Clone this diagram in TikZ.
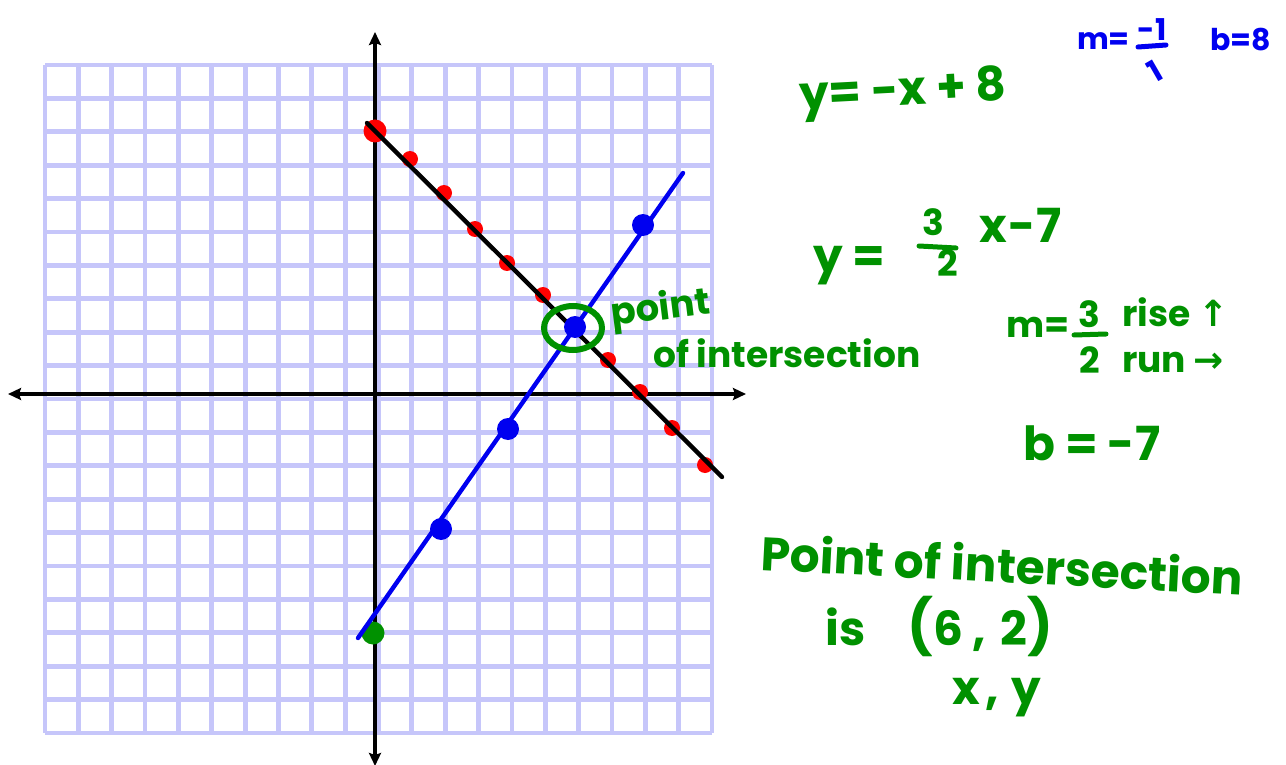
\documentclass[tikz,border=0pt]{standalone}
\usepackage{fontspec}
\setmainfont{Poppins}
\newfontfamily\symfont{DejaVu Sans}
\usetikzlibrary{arrows.meta,shapes.geometric}
\definecolor{gridc}{RGB}{198,198,250}
\definecolor{hgreen}{RGB}{0,145,0}
\definecolor{hblue}{RGB}{0,0,240}
\definecolor{hred}{RGB}{255,0,0}
\newcommand\HWbig{\fontsize{47}{50}\selectfont\bfseries}
\newcommand\HWmid{\fontsize{36}{40}\selectfont\bfseries}
\newcommand\HWsmall{\fontsize{30}{34}\selectfont\bfseries}
\newcommand\HWparen{\fontsize{54}{56}\selectfont\bfseries}
\begin{document}
\begin{tikzpicture}[x=1pt,y=-1pt,
  gridline/.style={draw=gridc,line width=4.8pt},
  axisline/.style={draw=black,line width=3.4pt,
    {Stealth[length=13pt,width=12pt,inset=2pt]}-{Stealth[length=13pt,width=12pt,inset=2pt]}},
  graphline/.style={line width=4.4pt,line cap=round},
  dotnode/.style={circle,inner sep=0pt,minimum size=#1},
  reddot/.style={dotnode=16pt,fill=hred},
  bluedot/.style={dotnode=22pt,fill=hblue},
  gtext/.style={text=hgreen,inner sep=0pt,anchor=base west},
  btext/.style={text=hblue,inner sep=0pt,anchor=base west},
  fracbar/.style={line width=5pt,line cap=round}]
\fill[white] (0,0) rectangle (1286,765);
\useasboundingbox (0,0) rectangle (1286,765);
% grid
\foreach \i in {0,...,20}{
  \draw[gridline] ({45+\i*33.35},65) -- ({45+\i*33.35},733);
  \draw[gridline] (45,{65+\i*33.4}) -- (712,{65+\i*33.4});
}
% axes
\coordinate (xl) at (8,394);
\coordinate (xr) at (746,394);
\coordinate (yt) at (375,32);
\coordinate (yb) at (375,766);
\draw[axisline] (xl) -- (xr);
\draw[axisline] (yt) -- (yb);
% red points of y = -x + 8
\node[reddot,minimum size=23pt] (r0) at (375,131) {};
\node[reddot] (r1) at (410,159) {};
\node[reddot] (r2) at (444,193) {};
\node[reddot] (r3) at (475,229) {};
\node[reddot] (r4) at (507,263) {};
\node[reddot] (r5) at (543,295) {};
\node[reddot] (r7) at (608,360) {};
\node[reddot] (r8) at (640,392) {};
\node[reddot] (r9) at (672,428) {};
\node[reddot] (r10) at (705,465) {};
\coordinate (ra) at (367,123);
\coordinate (rb) at (722,477);
\draw[graphline,draw=black] (ra) -- (rb);
% blue line y = 3/2 x - 7
\node[dotnode=23pt,fill=hgreen] (g0) at (373,633) {};
\coordinate (ba) at (358,638);
\coordinate (bb) at (683,173);
\draw[graphline,draw=hblue] (ba) -- (bb);
\node[bluedot] (b2) at (441,529) {};
\node[bluedot] (b4) at (508,429) {};
\node[bluedot] (b6) at (575,327) {};
\node[bluedot] (b8) at (643,225) {};
\node[ellipse,draw=hgreen,line width=6pt,minimum width=58pt,minimum height=44pt,inner sep=0pt] (poi) at (573,328) {};
% labels near circle
\node[gtext,rotate=7] (pt1) at (612,326) {\fontsize{37}{40}\selectfont\bfseries point};
\node[gtext] (pt2) at (653,367) {\HWmid of intersection};
% equation 1
\node[gtext,rotate=3] (eq1) at (800,111) {\HWbig y= -x + 8};
% blue slope
\node[btext] (bm) at (1077,50) {\HWsmall m=};
\node[text=hblue,inner sep=0pt] (bnum) at (1152,30) {\HWsmall -1};
\coordinate (bbar1) at (1138,47);
\coordinate (bbar2) at (1166,45);
\draw[fracbar,draw=hblue] (bbar1) -- (bbar2);
\node[text=hblue,inner sep=0pt,rotate=30] (bden) at (1155,71) {\HWsmall 1};
\node[btext] (bb8) at (1210,51) {\HWsmall b=8};
% equation 2
\node[gtext] (eq2a) at (813,272) {\HWbig y =};
\node[text=hgreen,inner sep=0pt] (eq2n) at (933,222) {\HWmid 3};
\coordinate (f2a) at (919,246);
\coordinate (f2b) at (956,248);
\draw[fracbar,draw=hgreen] (f2a) -- (f2b);
\node[text=hgreen,inner sep=0pt] (eq2d) at (948,263) {\HWmid 2};
\node[gtext] (eq2b) at (979,243) {\HWbig x{\hspace{2pt}}-7};
% slope 2
\node[gtext] (m2) at (1006,337) {\HWmid m=};
\node[text=hgreen,inner sep=0pt] (m2n) at (1089,314) {\HWmid 3};
\coordinate (m2a) at (1074,335);
\coordinate (m2b) at (1106,334);
\draw[fracbar,draw=hgreen] (m2a) -- (m2b);
\node[text=hgreen,inner sep=0pt] (m2d) at (1090,360) {\HWmid 2};
\node[gtext] (rise) at (1122,326) {\HWmid rise {\symfont↑}};
\node[gtext] (run) at (1122,372) {\HWmid run {\symfont→}};
% intercept
\node[gtext] (bint) at (1023,460) {\HWbig b = -7};
% conclusion
\node[gtext,rotate=-3] (c1) at (760,570) {\HWbig Point of intersection};
\node[gtext] (c2) at (825,645) {\HWbig is\hspace{42pt}{\HWparen(}6\hspace{10pt},\hspace{14pt}2{\HWparen)}};
\node[gtext] (c3) at (952,704) {\HWbig x\hspace{6pt},\hspace{12pt}y};
\end{tikzpicture}
\end{document}
